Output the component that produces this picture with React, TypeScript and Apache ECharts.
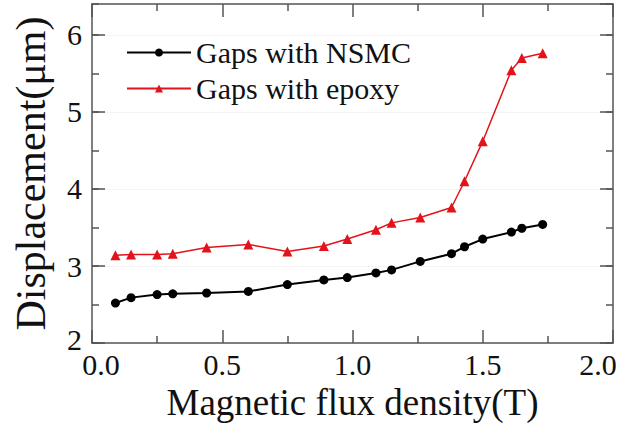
import React, { useEffect, useRef } from 'react';
import * as echarts from 'echarts';

const fluxDensity = [0.09, 0.15, 0.25, 0.31, 0.44, 0.60, 0.75, 0.89, 0.98, 1.09, 1.15, 1.26, 1.38, 1.43, 1.50, 1.61, 1.65, 1.73];
const gapsNSMC = [2.52, 2.59, 2.63, 2.64, 2.65, 2.67, 2.76, 2.82, 2.85, 2.91, 2.95, 3.06, 3.16, 3.25, 3.35, 3.44, 3.49, 3.54];
const gapsEpoxy = [3.14, 3.15, 3.15, 3.16, 3.24, 3.28, 3.19, 3.26, 3.35, 3.47, 3.56, 3.63, 3.76, 4.10, 4.62, 5.54, 5.70, 5.76];
const seriesNames = ['Gaps with NSMC', 'Gaps with epoxy'];
const xAxisName = 'Magnetic flux density(T)';
const yAxisName = 'Displacement(μm)';

const FONT = 'Liberation Serif';
const AXIS_COLOR = '#555';
const TEXT_COLOR = '#111';

export default function App() {
  const ref = useRef<HTMLDivElement>(null);
  useEffect(() => {
    if (!ref.current) return;
    const chart = echarts.init(ref.current, undefined, { renderer: 'svg' });
    const axisLine = { show: true, lineStyle: { color: AXIS_COLOR, width: 1.5 } };
    const majorTick = { show: true, inside: true, length: 13, lineStyle: { color: AXIS_COLOR, width: 1.5 } };
    const minorTickOnly = { show: true, inside: true, length: 7, lineStyle: { color: AXIS_COLOR, width: 1.5 } };
    const base = { fontSize: 30, fontFamily: FONT, color: TEXT_COLOR };
    chart.setOption({
      animation: false,
      backgroundColor: '#fff',
      textStyle: { fontFamily: FONT, fontSize: 30, color: TEXT_COLOR },
      grid: { left: 92, right: 22, top: 4, bottom: 79 },
      legend: {
        orient: 'vertical',
        left: 121,
        top: 32,
        itemWidth: 64,
        itemHeight: 10,
        itemGap: 5,
        textStyle: { ...base, lineHeight: 31 },
        data: seriesNames,
      },
      xAxis: [
        {
          type: 'value', position: 'bottom', min: 0, max: 2, interval: 0.5,
          axisLine, axisTick: majorTick,
          minorTick: { show: true, splitNumber: 2, length: 7, lineStyle: { color: AXIS_COLOR, width: 1.5 } },
          splitLine: { show: false },
          axisLabel: {
            ...base, margin: 6,
            formatter: (v: number) => {
              const s = v.toFixed(1);
              if (v === 0) return `{first|${s}}`;
              if (v === 2) return `{last|${s}}`;
              return s;
            },
            rich: {
              first: { ...base, padding: [0, 0, 0, 18] },
              last: { ...base, padding: [0, 30, 0, 0] },
            },
          },
          name: xAxisName, nameLocation: 'middle', nameGap: 37,
          nameTextStyle: { fontSize: 37, fontFamily: FONT, color: TEXT_COLOR },
        },
        {
          type: 'value', position: 'top', min: 0, max: 2, interval: 0.5,
          axisLine, axisTick: majorTick,
          minorTick: { show: true, splitNumber: 2, length: 7, lineStyle: { color: AXIS_COLOR, width: 1.5 } },
          splitLine: { show: false }, axisLabel: { show: false },
        },
      ],
      yAxis: [
        {
          type: 'value', position: 'left', min: 2, max: 6.4, interval: 1,
          axisLine, axisTick: majorTick,
          splitLine: { show: true, lineStyle: { color: '#f4f4f4', width: 1 } },
          axisLabel: {
            ...base, margin: 10, showMaxLabel: false,
            formatter: (v: number) => (v === 2 ? `{first|${v}}` : `${v}`),
            rich: { first: { ...base, padding: [0, 0, 8, 0] } },
          },
          name: yAxisName, nameLocation: 'middle', nameGap: 40,
          nameTextStyle: { fontSize: 42, fontFamily: FONT, color: TEXT_COLOR },
        },
        {
          type: 'value', position: 'left', min: 2, max: 6.4, interval: 0.5,
          axisLine: { show: false }, axisTick: minorTickOnly,
          splitLine: { show: false }, axisLabel: { show: false },
        },
        {
          type: 'value', position: 'right', min: 2, max: 6.4, interval: 1,
          axisLine, axisTick: majorTick,
          splitLine: { show: false }, axisLabel: { show: false },
        },
        {
          type: 'value', position: 'right', min: 2, max: 6.4, interval: 0.5,
          axisLine: { show: false }, axisTick: minorTickOnly,
          splitLine: { show: false }, axisLabel: { show: false },
        },
      ],
      series: [
        {
          type: 'line', name: seriesNames[0], xAxisIndex: 0, yAxisIndex: 0,
          data: fluxDensity.map((x, i) => [x, gapsNSMC[i]]),
          symbol: 'circle', symbolSize: 9,
          lineStyle: { color: '#000', width: 2 }, itemStyle: { color: '#000' },
        },
        {
          type: 'line', name: seriesNames[1], xAxisIndex: 0, yAxisIndex: 0,
          data: fluxDensity.map((x, i) => [x, gapsEpoxy[i]]),
          symbol: 'triangle', symbolSize: 10,
          lineStyle: { color: '#e3131b', width: 1.5 }, itemStyle: { color: '#e3131b' },
        },
      ],
    });
    return () => chart.dispose();
  }, []);
  return (
    <div
      ref={ref}
      style={{ position: 'absolute', left: 0, top: 0, width: 635, height: 426, background: '#fff' }}
    />
  );
}
